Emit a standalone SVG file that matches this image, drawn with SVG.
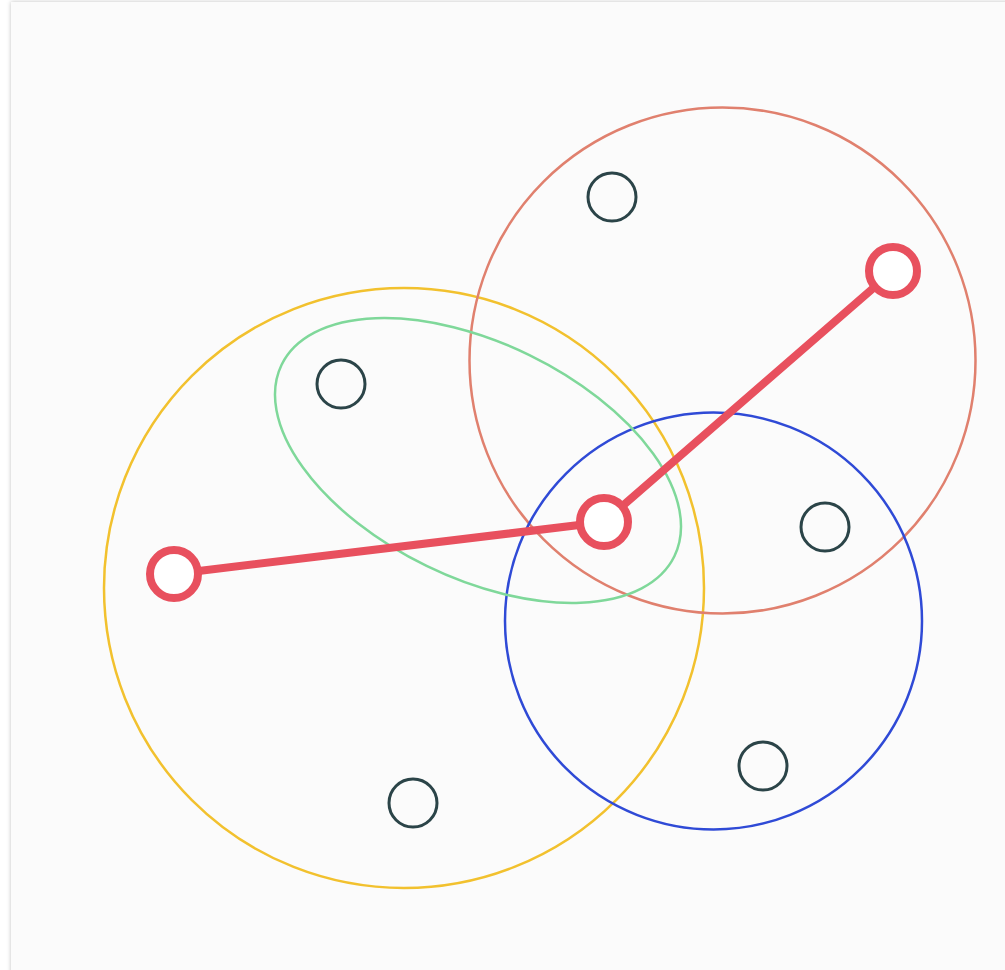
<svg xmlns="http://www.w3.org/2000/svg" width="1005" height="970" viewBox="0 0 1005 970">
<defs>
<filter id="sh" x="-5%" y="-5%" width="110%" height="110%"><feDropShadow dx="0" dy="0" stdDeviation="2" flood-color="#000" flood-opacity="0.25"/></filter>
<style>
.pt{fill:none;stroke:#2b4448;stroke-width:3}
.hub{fill:#fff;stroke:#e8505e;stroke-width:8}
.edge{stroke:#e8505e;stroke-width:8;stroke-linecap:round}
</style>
</defs>
<rect width="1005" height="970" fill="#fff"/>
<rect x="11" y="2" width="1000" height="975" fill="#fbfbfb" filter="url(#sh)"/>
<g id="clusters" fill="none" stroke-width="2.5">
<circle id="yellow" cx="404" cy="588" r="300" stroke="#f2c12e"/>
<circle id="salmon" cx="722.5" cy="360.5" r="253" stroke="#e0806e"/>
<circle id="blue" cx="713.5" cy="621" r="208.5" stroke="#2f4ad6"/>
<ellipse id="green" cx="478" cy="460.5" rx="218.5" ry="117.3" transform="rotate(26 478 460.5)" stroke="#7fd89a"/>
</g>
<g id="points">
<circle id="p1" class="pt" cx="612" cy="197" r="24"/>
<circle id="p2" class="pt" cx="341" cy="384" r="24"/>
<circle id="p3" class="pt" cx="825" cy="527" r="24"/>
<circle id="p4" class="pt" cx="763" cy="766" r="24"/>
<circle id="p5" class="pt" cx="413" cy="803" r="24"/>
</g>
<g id="connectors">
<line class="edge" x1="174" y1="574" x2="604" y2="522"/>
<line class="edge" x1="604" y1="522" x2="893" y2="271"/>
</g>
<g id="hubs">
<circle id="h1" class="hub" cx="174" cy="574" r="24"/>
<circle id="h2" class="hub" cx="604" cy="522" r="24"/>
<circle id="h3" class="hub" cx="893" cy="271" r="24"/>
</g>
</svg>
